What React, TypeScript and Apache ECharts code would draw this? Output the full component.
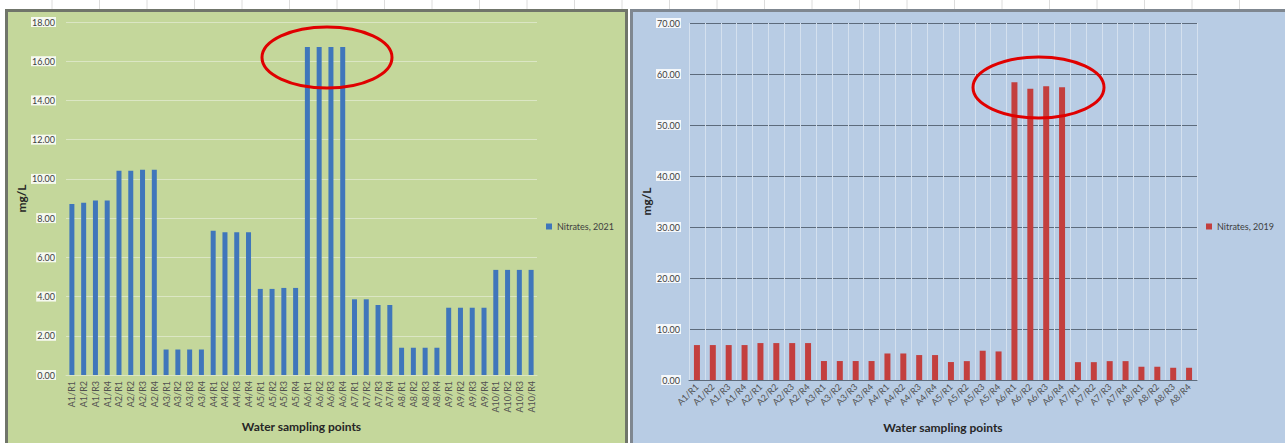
import React, { useEffect, useRef } from "react";
import * as echarts from "echarts";

// Sampling points: areas A1..A10, replicates R1..R4
const categories2021 = [
  "A1/R1", "A1/R2", "A1/R3", "A1/R4",
  "A2/R1", "A2/R2", "A2/R3", "A2/R4",
  "A3/R1", "A3/R2", "A3/R3", "A3/R4",
  "A4/R1", "A4/R2", "A4/R3", "A4/R4",
  "A5/R1", "A5/R2", "A5/R3", "A5/R4",
  "A6/R1", "A6/R2", "A6/R3", "A6/R4",
  "A7/R1", "A7/R2", "A7/R3", "A7/R4",
  "A8/R1", "A8/R2", "A8/R3", "A8/R4",
  "A9/R1", "A9/R2", "A9/R3", "A9/R4",
  "A10/R1", "A10/R2", "A10/R3", "A10/R4",
];

// Nitrate concentration, mg/L, 2021
const nitrates2021 = [
  8.72, 8.78, 8.9, 8.9,
  10.42, 10.42, 10.46, 10.46,
  1.3, 1.3, 1.3, 1.3,
  7.35, 7.28, 7.28, 7.28,
  4.39, 4.39, 4.44, 4.44,
  16.73, 16.73, 16.73, 16.73,
  3.86, 3.86, 3.57, 3.57,
  1.39, 1.39, 1.39, 1.39,
  3.43, 3.43, 3.43, 3.43,
  5.36, 5.36, 5.36, 5.36,
];

const categories2019 = [
  "A1/R1", "A1/R2", "A1/R3", "A1/R4",
  "A2/R1", "A2/R2", "A2/R3", "A2/R4",
  "A3/R1", "A3/R2", "A3/R3", "A3/R4",
  "A4/R1", "A4/R2", "A4/R3", "A4/R4",
  "A5/R1", "A5/R2", "A5/R3", "A5/R4",
  "A6/R1", "A6/R2", "A6/R3", "A6/R4",
  "A7/R1", "A7/R2", "A7/R3", "A7/R4",
  "A8/R1", "A8/R2", "A8/R3", "A8/R4",
];

// Nitrate concentration, mg/L, 2019
const nitrates2019 = [
  6.85, 6.85, 6.85, 6.85,
  7.24, 7.24, 7.24, 7.24,
  3.72, 3.72, 3.72, 3.72,
  5.2, 5.2, 4.89, 4.89,
  3.52, 3.7, 5.74, 5.6,
  58.4, 57.1, 57.6, 57.4,
  3.5, 3.5, 3.7, 3.7,
  2.6, 2.6, 2.4, 2.4,
];

const series2021 = "Nitrates, 2021";
const series2019 = "Nitrates, 2019";
const yTitle = "mg/L";
const xTitle = "Water sampling points";

const FONT = "Lato, 'Open Sans', sans-serif";

export default function App() {
  const ref = useRef<HTMLDivElement>(null);

  useEffect(() => {
    if (!ref.current) return;
    const chart = echarts.init(ref.current, undefined, { renderer: "svg" });

    const yLabel = {
      fontFamily: FONT,
      fontSize: 9,
      color: "#404040",
      backgroundColor: "rgba(255,255,255,0.85)",
      padding: [1, 1, 0, 1],
      formatter: (v: number) => v.toFixed(2),
    };

    const legendText = { fontFamily: FONT, fontSize: 9, color: "#404040" };

    // faint spreadsheet cell lines above the panels
    const sheetLines: any[] = [];
    for (let i = 0; i < 27; i++) {
      const x = 52 + i * 47.5;
      sheetLines.push({
        type: "line",
        z: -20,
        shape: { x1: x, y1: 0, x2: x, y2: 9 },
        style: { stroke: "#dcdcdc", lineWidth: 1 },
      });
    }

    chart.setOption({
      animation: false,
      textStyle: { fontFamily: FONT },
      graphic: [
        ...sheetLines,
        {
          type: "rect",
          z: -10,
          shape: { x: 6.5, y: 10.5, width: 620, height: 440 },
          style: { fill: "#c4d79b", stroke: "#70756a", lineWidth: 3 },
        },
        {
          type: "rect",
          z: -10,
          shape: { x: 631.5, y: 10.5, width: 670, height: 440 },
          style: { fill: "#b8cce4", stroke: "#7f8790", lineWidth: 3 },
        },
        {
          type: "ellipse",
          z: 100,
          shape: { cx: 327, cy: 57.5, rx: 65, ry: 30.5 },
          style: { fill: "none", stroke: "#e00000", lineWidth: 3 },
        },
        {
          type: "ellipse",
          z: 100,
          shape: { cx: 1038.5, cy: 87.5, rx: 65.5, ry: 30.5 },
          style: { fill: "none", stroke: "#e00000", lineWidth: 3 },
        },
      ],
      legend: [
        {
          data: [series2021],
          left: 546,
          top: 222,
          padding: 0,
          icon: "rect",
          itemWidth: 6,
          itemHeight: 6,
          textStyle: legendText,
        },
        {
          data: [series2019],
          left: 1206,
          top: 222,
          padding: 0,
          icon: "rect",
          itemWidth: 6,
          itemHeight: 6,
          textStyle: legendText,
        },
      ],
      grid: [
        { left: 66, top: 22, width: 471, height: 353, containLabel: false },
        { left: 689, top: 23, width: 508, height: 357, containLabel: false },
      ],
      xAxis: [
        {
          type: "category",
          gridIndex: 0,
          data: categories2021,
          axisLine: { lineStyle: { color: "#dbe6c4" } },
          axisTick: { show: false },
          axisLabel: {
            rotate: 90,
            interval: 0,
            margin: 6,
            fontFamily: FONT,
            fontSize: 9,
            color: "#505050",
          },
          name: xTitle,
          nameLocation: "middle",
          nameGap: 44,
          nameTextStyle: {
            fontFamily: FONT,
            fontSize: 12,
            fontWeight: "bold",
            color: "#262626",
            verticalAlign: "top",
          },
        },
        {
          type: "category",
          gridIndex: 1,
          data: categories2019,
          axisLine: { lineStyle: { color: "#5d6b7c" } },
          axisTick: { show: false },
          splitLine: { show: true, lineStyle: { color: "#d4e0ee", width: 1 } },
          axisLabel: {
            rotate: 45,
            interval: 0,
            margin: 5,
            fontFamily: FONT,
            fontSize: 9,
            color: "#505050",
          },
          name: xTitle,
          nameLocation: "middle",
          nameGap: 41,
          nameTextStyle: {
            fontFamily: FONT,
            fontSize: 12,
            fontWeight: "bold",
            color: "#262626",
            verticalAlign: "top",
          },
        },
      ],
      yAxis: [
        {
          type: "value",
          gridIndex: 0,
          min: 0,
          max: 18,
          interval: 2,
          axisLine: { show: false },
          axisTick: { show: false },
          splitLine: { lineStyle: { color: "#dbe6c4", width: 1 } },
          axisLabel: { ...yLabel, margin: 10 },
          name: yTitle,
          nameLocation: "middle",
          nameGap: 33,
          nameTextStyle: {
            fontFamily: FONT,
            fontSize: 12,
            fontWeight: "bold",
            color: "#262626",
          },
        },
        {
          type: "value",
          gridIndex: 1,
          min: 0,
          max: 70,
          interval: 10,
          axisLine: { show: false },
          axisTick: { show: false },
          splitLine: { lineStyle: { color: "#5d6b7c", width: 1 } },
          axisLabel: { ...yLabel, margin: 8 },
          name: yTitle,
          nameLocation: "middle",
          nameGap: 30,
          nameTextStyle: {
            fontFamily: FONT,
            fontSize: 12,
            fontWeight: "bold",
            color: "#262626",
          },
        },
      ],
      series: [
        {
          name: series2021,
          type: "bar",
          xAxisIndex: 0,
          yAxisIndex: 0,
          data: nitrates2021,
          barWidth: 5,
          itemStyle: { color: "#3f76bb" },
        },
        {
          name: series2019,
          type: "bar",
          xAxisIndex: 1,
          yAxisIndex: 1,
          data: nitrates2019,
          barWidth: 6,
          itemStyle: { color: "#c33f3e" },
        },
      ],
    });

    return () => chart.dispose();
  }, []);

  return (
    <div
      ref={ref}
      style={{
        position: "absolute",
        left: 0,
        top: 0,
        width: 1285,
        height: 443,
        background: "#ffffff",
      }}
    />
  );
}
